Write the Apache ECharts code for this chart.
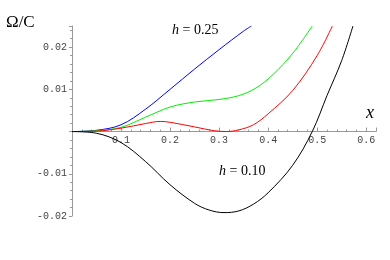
<!DOCTYPE html>
<html>
<head>
<meta charset="utf-8">
<script src="https://cdn.jsdelivr.net/npm/echarts@6/dist/echarts.min.js"></script>
<style>html,body{margin:0;padding:0;background:#fff;}#c{width:390px;height:260px;}</style>
</head>
<body>
<div id="c"></div>
<script>
// x-axis ticks and y-axis ticks
var xTicks = [0.1, 0.2, 0.3, 0.4, 0.5, 0.6];
var yTicks = [-0.02, -0.01, 0.01, 0.02];
// curves: [x, Omega/C]
var h025 = [[0,0],[0.05,0.0003],[0.1,0.0016],[0.15,0.0053],[0.2,0.0100],[0.25,0.0148],[0.3,0.0194],[0.35,0.0238],[0.366,0.025]];
var h020 = [[0,0],[0.05,0.0002],[0.1,0.0010],[0.15,0.0034],[0.2,0.0058],[0.25,0.0070],[0.3,0.0076],[0.34,0.0085],[0.375,0.0103],[0.41,0.0135],[0.45,0.0185],[0.49,0.025]];
var h015 = [[0,0],[0.05,0.0001],[0.1,0.0008],[0.15,0.0019],[0.18,0.0024],[0.2,0.0022],[0.25,0.0011],[0.29,0.0002],[0.315,0],[0.34,0.0004],[0.37,0.0016],[0.4,0.0042],[0.45,0.0097],[0.5,0.0180],[0.531,0.025]];
var h010 = [[0,0],[0.05,-0.0004],[0.1,-0.0026],[0.15,-0.0071],[0.2,-0.0126],[0.25,-0.0170],[0.28,-0.0186],[0.31,-0.0192],[0.34,-0.0188],[0.37,-0.0172],[0.4,-0.0145],[0.45,-0.0080],[0.49,0],[0.52,0.0085],[0.55,0.0168],[0.573,0.025]];

var chart = echarts.init(document.getElementById('c'), null, {renderer:'canvas'});
var lab = {fontFamily:'Liberation Mono', fontSize:10, color:'#444'};
function ser(d, c){ return {type:'line', data:d, smooth:0.35, showSymbol:false, clip:true, lineStyle:{color:c, width:1}, itemStyle:{color:c}}; }
var gTop = 26, gH = 190, yMin = -0.02, yMax = 0.025;
var zeroOffset = gH * yMin / (yMax - yMin); // shift x axis from bottom to y=0
chart.setOption({
  animation:false,
  grid:{left:72, right:14, top:gTop, height:gH},
  xAxis:{type:'value', min:0, max:0.62, interval:0.1, offset:zeroOffset,
    axisLine:{onZero:false, lineStyle:{color:'#999'}},
    axisTick:{inside:true, length:4, lineStyle:{color:'#999'}},
    minorTick:{show:true, splitNumber:5, length:2, lineStyle:{color:'#999'}},
    splitLine:{show:false},
    axisLabel:Object.assign({margin:4, formatter:function(v){var f=xTicks.filter(function(t){return Math.abs(t-v)<1e-9;}); return f.length?f[0].toFixed(1):'';}}, lab)
  },
  yAxis:{type:'value', min:yMin, max:yMax, interval:0.01,
    axisLine:{show:true, onZero:false, lineStyle:{color:'#999'}},
    axisTick:{show:true, inside:false, length:3, lineStyle:{color:'#999'}},
    minorTick:{show:true, splitNumber:5, length:2, lineStyle:{color:'#999'}},
    splitLine:{show:false},
    axisLabel:Object.assign({margin:5, formatter:function(v){var f=yTicks.filter(function(t){return Math.abs(t-v)<1e-9;}); return f.length?f[0].toFixed(2):'';}}, lab)
  },
  series:[ser(h025,'#0000ff'), ser(h020,'#00ee00'), ser(h015,'#ff0000'), ser(h010,'#000000')],
  graphic:[
    {type:'text', left:6, top:14, style:{text:'Ω/C', font:'17px "Liberation Serif"', fill:'#000'}},
    {type:'text', left:366, top:104, style:{text:'x', font:'italic 18px "Liberation Serif"', fill:'#000'}},
    {type:'text', left:172, top:23, style:{rich:{i:{font:'italic 14px "Liberation Serif"', fill:'#000'}, n:{font:'14px "Liberation Serif"', fill:'#000'}}, text:'{i|h}{n| = 0.25}'}},
    {type:'text', left:219, top:164, style:{rich:{i:{font:'italic 14px "Liberation Serif"', fill:'#000'}, n:{font:'14px "Liberation Serif"', fill:'#000'}}, text:'{i|h}{n| = 0.10}'}}
  ]
});
</script>
</body>
</html>
